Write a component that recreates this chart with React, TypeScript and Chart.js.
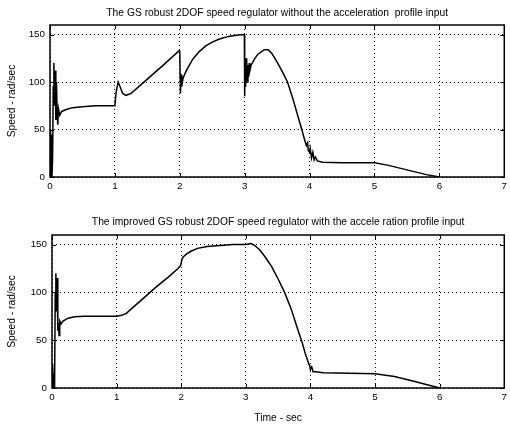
import React, { useEffect, useRef } from "react";
import { Chart, registerables } from "chart.js";
Chart.register(...registerables);

// ---- Data ----
const xTicks = [0, 1, 2, 3, 4, 5, 6, 7];
const yTicks = [0, 50, 100, 150];

const topTitle = "The GS robust 2DOF speed regulator without the acceleration  profile input";
const bottomTitle = "The improved GS robust 2DOF speed regulator with the accele ration profile input";
const yLabel = "Speed - rad/sec";
const xLabel = "Time - sec";

const topTime = [
  0, 0.005, 0.01, 0.02, 0.03, 0.04, 0.05, 0.06, 0.07, 0.08, 0.09, 0.1, 0.11, 0.12, 0.13, 0.15, 0.18, 0.25, 0.35, 0.5, 0.7, 1.0,
  1.02, 1.05, 1.08, 1.12, 1.17, 1.25, 1.5, 1.75, 1.99,
  2.0, 2.01, 2.02, 2.03, 2.05, 2.1, 2.2, 2.3, 2.4, 2.5, 2.6, 2.75, 2.9, 2.995,
  3.0, 3.005, 3.01, 3.015, 3.02, 3.03, 3.04, 3.05, 3.06, 3.07, 3.08, 3.1, 3.15, 3.2, 3.3, 3.36,
  3.42, 3.5, 3.58, 3.66, 3.74, 3.82, 3.88, 3.92, 3.95, 3.97, 3.98, 4.0, 4.01, 4.03, 4.05, 4.07, 4.09, 4.12, 4.2, 4.5, 5.0, 5.2, 5.5, 5.8, 6.0,
];
const topSpeed = [
  0, 50, 10, 45, 0, 20, 95, 120, 75, 112, 60, 100, 65, 55, 72, 65, 69, 71, 73, 74, 75, 75,
  90, 100, 95, 88, 86, 88, 103, 118, 133,
  130, 88, 108, 95, 104, 112, 124, 132, 138, 142, 145, 148, 149.5, 150,
  85, 125, 95, 120, 100, 125, 100, 118, 105, 120, 112, 118, 124, 129, 134, 134,
  130, 121, 111, 100, 83, 64, 50, 40, 33, 36, 28, 26, 30, 20, 26, 18, 21, 17, 15.5, 15, 15, 12.5, 7.5, 2.5, 0,
];

const bottomTime = [
  0, 0.01, 0.02, 0.03, 0.04, 0.05, 0.06, 0.07, 0.08, 0.09, 0.1, 0.11, 0.12, 0.14, 0.17, 0.25, 0.35, 0.5, 0.7, 1.0,
  1.08, 1.15, 1.25, 1.4, 1.6, 1.8, 1.95, 1.99, 2.01, 2.03, 2.08, 2.15, 2.25, 2.4, 2.6, 2.8, 3.0,
  3.08, 3.14, 3.22, 3.3, 3.4, 3.5, 3.6, 3.7, 3.8, 3.87, 3.92, 3.95, 3.97, 3.99, 4.0, 4.02, 4.04, 4.08, 4.2, 5.0, 5.3, 5.6, 6.0,
];
const bottomSpeed = [
  0, 25, 0, 15, 0, 100, 120, 80, 115, 60, 68, 55, 70, 67, 70, 73, 74.5, 75, 75, 75,
  76, 78, 84, 93, 105, 116, 125, 128, 134, 137, 140, 143, 146, 148, 149, 150, 150,
  151, 149, 144, 137, 127, 114, 100, 83, 62, 48, 36, 30, 26, 23, 19, 22, 17, 17, 16, 15, 12, 7, 0,
];

const FONT = '"Liberation Sans", Arial, Helvetica, sans-serif';
const TITLE_SIZE = 10.3;

const framePlugin = {
  id: "frame",
  afterDatasetsDraw(chart: any, _args: any, opts: any) {
    const { ctx, chartArea: a, scales } = chart;
    ctx.save();
    ctx.strokeStyle = "#000";
    ctx.lineWidth = 1;
    const L = 4;
    ctx.beginPath();
    for (const v of xTicks) {
      const px = Math.round(scales.x.getPixelForValue(v)) + 0.5;
      ctx.moveTo(px, a.bottom);
      ctx.lineTo(px, a.bottom - L);
      ctx.moveTo(px, a.top);
      ctx.lineTo(px, a.top + L);
    }
    for (const v of yTicks) {
      const py = Math.round(scales.y.getPixelForValue(v)) + 0.5;
      ctx.moveTo(a.left, py);
      ctx.lineTo(a.left + L, py);
      ctx.moveTo(a.right, py);
      ctx.lineTo(a.right - L, py);
    }
    ctx.stroke();
    ctx.lineWidth = 1.5;
    ctx.strokeRect(a.left, a.top, a.right - a.left, a.bottom - a.top);
    ctx.fillStyle = "#000";
    ctx.font = `${TITLE_SIZE}px ${FONT}`;
    ctx.textAlign = "center";
    ctx.textBaseline = "middle";
    ctx.fillText(opts.title, (a.left + a.right) / 2, opts.titleY);
    ctx.restore();
  },
};

function makeConfig(
  times: number[],
  speeds: number[],
  title: string,
  titleY: number,
  padTop: number,
  padRight: number,
  yWidth: number,
  xHeight: number,
  showXTitle: boolean
): any {
  const points = times.map((t, i) => ({ x: t, y: speeds[i] }));
  const tickFont = { family: FONT, size: 9.8 };
  return {
    type: "line",
    data: {
      datasets: [
        {
          data: points,
          borderColor: "#000",
          borderWidth: 1.5,
          pointRadius: 0,
          tension: 0,
          fill: false,
        },
      ],
    },
    plugins: [framePlugin],
    options: {
      animation: false,
      responsive: false,
      devicePixelRatio: 1,
      layout: { padding: { left: 0, right: padRight, top: padTop, bottom: 0 } },
      plugins: {
        legend: { display: false },
        tooltip: { enabled: false },
        title: { display: false },
        frame: { title, titleY },
      },
      scales: {
        x: {
          type: "linear",
          min: 0,
          max: 7,
          afterBuildTicks: (s: any) => {
            s.ticks = xTicks.map((value) => ({ value }));
          },
          afterFit: (s: any) => {
            s.height = xHeight;
          },
          ticks: { color: "#000", font: tickFont, padding: 3, maxRotation: 0, autoSkip: false },
          grid: { color: "#000", lineWidth: 1, drawTicks: false },
          border: { display: false, dash: [1, 3] },
          title: {
            display: showXTitle,
            text: xLabel,
            color: "#000",
            font: { family: FONT, size: TITLE_SIZE },
            padding: { top: 0, bottom: 2 },
          },
        },
        y: {
          type: "linear",
          min: 0,
          max: 160,
          afterBuildTicks: (s: any) => {
            s.ticks = yTicks.map((value) => ({ value }));
          },
          afterFit: (s: any) => {
            s.width = yWidth;
          },
          ticks: { color: "#000", font: tickFont, padding: 5 },
          grid: { color: "#000", lineWidth: 1, drawTicks: false },
          border: { display: false, dash: [1, 3] },
          title: {
            display: true,
            text: yLabel,
            color: "#000",
            font: { family: FONT, size: TITLE_SIZE },
            padding: { top: 6, bottom: 0 },
          },
        },
      },
    },
  };
}

export default function App() {
  const topRef = useRef<HTMLCanvasElement | null>(null);
  const botRef = useRef<HTMLCanvasElement | null>(null);

  useEffect(() => {
    const c1 = new Chart(
      topRef.current as HTMLCanvasElement,
      makeConfig(topTime, topSpeed, topTitle, 13, 25, 4, 50, 23, false)
    );
    const c2 = new Chart(
      botRef.current as HTMLCanvasElement,
      makeConfig(bottomTime, bottomSpeed, bottomTitle, 22, 35, 3, 52, 38, true)
    );
    return () => {
      c1.destroy();
      c2.destroy();
    };
  }, []);

  return (
    <div style={{ position: "absolute", left: 0, top: 0, width: 510, height: 426, background: "#fff" }}>
      <canvas
        ref={topRef}
        width={510}
        height={200}
        style={{ position: "absolute", left: 0, top: 0, width: 510, height: 200, display: "block" }}
      />
      <canvas
        ref={botRef}
        width={510}
        height={226}
        style={{ position: "absolute", left: 0, top: 200, width: 510, height: 226, display: "block" }}
      />
    </div>
  );
}
